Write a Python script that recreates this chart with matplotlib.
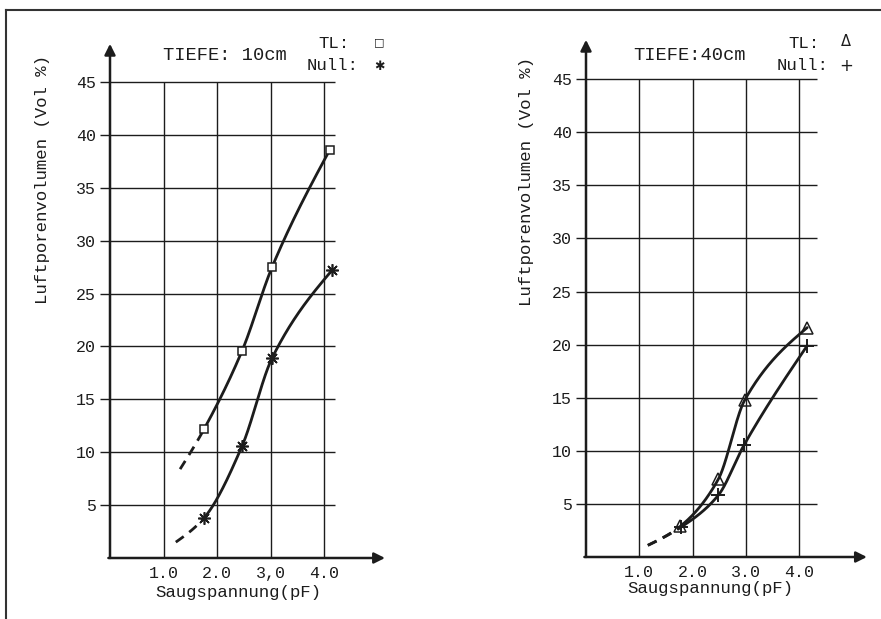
import numpy as np
import matplotlib
matplotlib.use("Agg")
import matplotlib.pyplot as plt

# ---------------- data ----------------
pf_ticks = [1.0, 2.0, 3.0, 4.0]
pf_labels_10 = ["1.0", "2.0", "3,0", "4.0"]
pf_labels_40 = ["1.0", "2.0", "3.0", "4.0"]
vol_ticks = [5, 10, 15, 20, 25, 30, 35, 40, 45]

# Tiefe 10 cm
pf_tl10 = [1.76, 2.47, 3.03, 4.11]
tl10 = [12.2, 19.6, 27.5, 38.6]
pf_null10 = [1.76, 2.47, 3.03, 4.15]
null10 = [3.8, 10.6, 18.9, 27.2]
ext_tl10 = (1.31, 8.4)      # dashed extrapolation start
ext_null10 = (1.23, 1.5)

# Tiefe 40 cm
pf_tl40 = [1.77, 2.48, 2.98, 4.15]
tl40 = [2.9, 7.3, 14.8, 21.6]
pf_null40 = [1.78, 2.48, 2.96, 4.15]
null40 = [2.8, 5.8, 10.5, 19.9]
ext_40 = (1.16, 1.1)

INK = "#1c1c1c"
FONT = "Liberation Mono"

W, H = 881, 619
fig = plt.figure(figsize=(W / 100, H / 100), dpi=100)


def fx(px):
    return px / W


def fy(py):
    return 1 - py / H


def smooth_curve(x, y, xs):
    """Monotone Hermite interpolation, natural-type end tangents."""
    x = np.asarray(x, float)
    y = np.asarray(y, float)
    h = np.diff(x)
    d = np.diff(y) / h
    n = len(x)
    m = np.zeros(n)
    for k in range(1, n - 1):
        if d[k - 1] * d[k] <= 0:
            m[k] = 0
        else:
            w1 = 2 * h[k] + h[k - 1]
            w2 = h[k] + 2 * h[k - 1]
            m[k] = (w1 + w2) / (w1 / d[k - 1] + w2 / d[k])
    m[0] = max((3 * d[0] - m[1]) / 2, 0.3 * d[0])
    m[-1] = max((3 * d[-1] - m[-2]) / 2, 0.3 * d[-1])
    out = np.empty_like(xs)
    for j, xv in enumerate(xs):
        i = min(max(np.searchsorted(x, xv) - 1, 0), n - 2)
        t = (xv - x[i]) / h[i]
        h00 = 2 * t ** 3 - 3 * t ** 2 + 1
        h10 = t ** 3 - 2 * t ** 2 + t
        h01 = -2 * t ** 3 + 3 * t ** 2
        h11 = t ** 3 - t ** 2
        out[j] = h00 * y[i] + h10 * h[i] * m[i] + h01 * y[i + 1] + h11 * h[i] * m[i + 1]
    return out


def draw_curve(ax, ext, xs, ys):
    X = [ext[0]] + list(xs)
    Y = [ext[1]] + list(ys)
    xx = np.linspace(X[0], X[-1], 500)
    yy = smooth_curve(X, Y, xx)
    dash = xx <= xs[0]
    ax.plot(xx[dash], yy[dash], color=INK, lw=2.0, ls=(0, (3.5, 2.5)),
            solid_capstyle="butt")
    ax.plot(xx[~dash], yy[~dash], color=INK, lw=2.0, solid_capstyle="round")


def setup_panel(rect, xmax, grid_xmax, arrow_x, arrow_y, xlabels):
    ax = fig.add_axes(rect)
    ax.set_xlim(0, xmax)
    ax.set_ylim(0, 49)
    for s in ax.spines.values():
        s.set_visible(False)
    ax.patch.set_alpha(0)
    # grid
    ax.hlines(vol_ticks, 0, grid_xmax, color=INK, lw=1.0, zorder=1)
    ax.vlines(pf_ticks, 0, 45, color=INK, lw=1.0, zorder=1)
    # axes with arrows
    ax.annotate("", xy=(0, arrow_y), xytext=(0, 0),
                arrowprops=dict(arrowstyle="-|>", lw=1.8, color=INK,
                                mutation_scale=16, shrinkA=0, shrinkB=0))
    ax.annotate("", xy=(arrow_x, 0), xytext=(-0.03, 0),
                arrowprops=dict(arrowstyle="-|>", lw=1.8, color=INK,
                                mutation_scale=16, shrinkA=0, shrinkB=0))
    ax.set_yticks(vol_ticks)
    ax.set_yticklabels([str(v) for v in vol_ticks], fontfamily=FONT,
                       fontsize=12, color=INK)
    ax.tick_params(axis="y", direction="out", length=7, width=1.0,
                   color=INK, pad=3)
    ax.set_xticks(pf_ticks)
    ax.set_xticklabels(xlabels, fontfamily=FONT, fontsize=12, color=INK)
    ax.tick_params(axis="x", length=0, pad=6)
    return ax


# left panel: x0 at px 110, 53.5 px/unit; y0 at px 558, 10.58 px/unit
axL = setup_panel([fx(110), fy(558), 5.3 * 53.5 / W, 49 * 10.58 / H],
                  5.3, 4.2, 5.14, 48.6, pf_labels_10)
draw_curve(axL, ext_tl10, pf_tl10, tl10)
draw_curve(axL, ext_null10, pf_null10, null10)
axL.plot(pf_tl10, tl10, ls="none", marker="s", ms=6, mfc="white",
         mec=INK, mew=1.1, zorder=5)
axL.plot(pf_null10, null10, ls="none", marker=(8, 2, 0), ms=9,
         mec=INK, mew=1.2, zorder=5)

# right panel: x0 at px 586, 53.3 px/unit; y0 at px 557, 10.62 px/unit
axR = setup_panel([fx(586), fy(557), 5.4 * 53.3 / W, 49 * 10.62 / H],
                  5.4, 4.33, 5.27, 48.7, pf_labels_40)
draw_curve(axR, ext_40, pf_tl40, tl40)
draw_curve(axR, ext_40, pf_null40, null40)
axR.plot(pf_tl40, tl40, ls="none", marker="^", ms=8, mfc="none",
         mec=INK, mew=1.1, zorder=5)
axR.plot(pf_null40, null40, ls="none", marker="+", ms=10,
         mec=INK, mew=1.4, zorder=5)

# texts
tk = dict(fontfamily=FONT, color=INK)
fig.text(fx(225), fy(55), "TIEFE: 10cm", ha="center", va="center",
         fontsize=13.5, **tk)
fig.text(fx(690), fy(55), "TIEFE:40cm", ha="center", va="center",
         fontsize=13.5, **tk)

fig.text(fx(318), fy(43), "TL:", ha="left", va="center", fontsize=12.5, **tk)
fig.text(fx(307), fy(66), "Null:", ha="left", va="center", fontsize=12.5, **tk)
fig.text(fx(379), fy(42), "\u25a1", ha="center", va="center", fontsize=8,
         fontfamily="DejaVu Sans", color=INK)
fig.text(fx(379), fy(66), "\u2731", ha="center", va="center", fontsize=9,
         fontfamily="DejaVu Sans", color=INK)

fig.text(fx(788), fy(43), "TL:", ha="left", va="center", fontsize=12.5, **tk)
fig.text(fx(777), fy(66), "Null:", ha="left", va="center", fontsize=12.5, **tk)
fig.text(fx(846), fy(42), "\u0394", ha="center", va="center", fontsize=10.5,
         fontfamily="DejaVu Sans", color=INK)
fig.text(fx(846), fy(66), "+", ha="center", va="center", fontsize=12,
         fontfamily="DejaVu Sans", color=INK)

fig.text(fx(43), fy(179), "Luftporenvolumen (Vol %)", rotation=90,
         ha="center", va="center", fontsize=12.5, **tk)
fig.text(fx(527), fy(181), "Luftporenvolumen (Vol %)", rotation=90,
         ha="center", va="center", fontsize=12.5, **tk)

fig.text(fx(238), fy(593), "Saugspannung(pF)", ha="center", va="center",
         fontsize=12.5, **tk)
fig.text(fx(710), fy(589), "Saugspannung(pF)", ha="center", va="center",
         fontsize=12.5, **tk)

# outer frame (top and left edges)
fig.add_artist(plt.Line2D([fx(6), 1.0], [fy(10), fy(10)], color="#333333",
                          lw=1.5, transform=fig.transFigure))
fig.add_artist(plt.Line2D([fx(6), fx(6)], [fy(10), 0.0], color="#333333",
                          lw=1.5, transform=fig.transFigure))

fig.savefig("out.png", dpi=100)
